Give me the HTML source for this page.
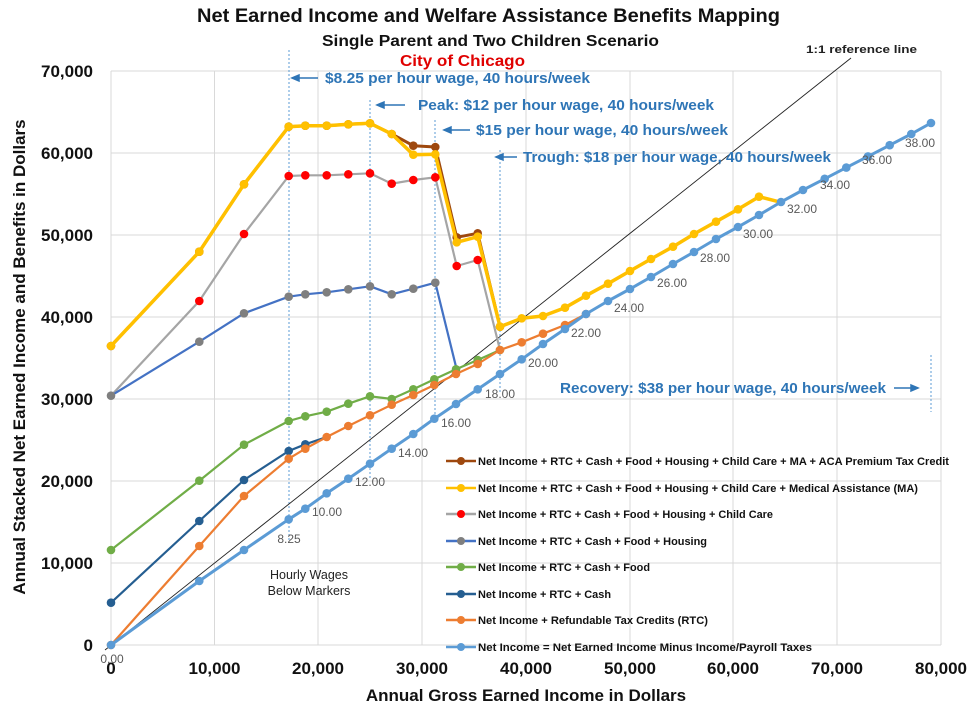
<!DOCTYPE html>
<html><head><meta charset="utf-8"><style>
html,body{margin:0;padding:0;background:#fff}
svg{display:block;font-family:"Liberation Sans",sans-serif}
</style></head><body>
<svg width="980" height="711" viewBox="0 0 980 711" xmlns="http://www.w3.org/2000/svg">
<defs>
<marker id="mY" markerWidth="10" markerHeight="10" refX="5" refY="5" markerUnits="userSpaceOnUse"><circle cx="5" cy="5" r="4.3" fill="#ffc000"/></marker>
<marker id="mBr" markerWidth="10" markerHeight="10" refX="5" refY="5" markerUnits="userSpaceOnUse"><circle cx="5" cy="5" r="4.3" fill="#9e480e"/></marker>
<marker id="mR" markerWidth="10" markerHeight="10" refX="5" refY="5" markerUnits="userSpaceOnUse"><circle cx="5" cy="5" r="4.3" fill="#ff0000"/></marker>
<marker id="mG" markerWidth="10" markerHeight="10" refX="5" refY="5" markerUnits="userSpaceOnUse"><circle cx="5" cy="5" r="4.3" fill="#7f7f7f"/></marker>
<marker id="mGr" markerWidth="10" markerHeight="10" refX="5" refY="5" markerUnits="userSpaceOnUse"><circle cx="5" cy="5" r="4.3" fill="#70ad47"/></marker>
<marker id="mDB" markerWidth="10" markerHeight="10" refX="5" refY="5" markerUnits="userSpaceOnUse"><circle cx="5" cy="5" r="4.3" fill="#255e91"/></marker>
<marker id="mO" markerWidth="10" markerHeight="10" refX="5" refY="5" markerUnits="userSpaceOnUse"><circle cx="5" cy="5" r="4.3" fill="#ed7d31"/></marker>
<marker id="mLB" markerWidth="10" markerHeight="10" refX="5" refY="5" markerUnits="userSpaceOnUse"><circle cx="5" cy="5" r="4.3" fill="#5b9bd5"/></marker>
</defs>

<g stroke="#d9d9d9" stroke-width="1">
<line x1="111" y1="71" x2="941" y2="71"/><line x1="111" y1="153" x2="941" y2="153"/>
<line x1="111" y1="235" x2="941" y2="235"/><line x1="111" y1="317" x2="941" y2="317"/>
<line x1="111" y1="399" x2="941" y2="399"/><line x1="111" y1="481" x2="941" y2="481"/>
<line x1="111" y1="563" x2="941" y2="563"/><line x1="111" y1="645" x2="941" y2="645"/>
<line x1="111" y1="71" x2="111" y2="645"/><line x1="214.5" y1="71" x2="214.5" y2="645"/>
<line x1="318" y1="71" x2="318" y2="645"/><line x1="422" y1="71" x2="422" y2="645"/>
<line x1="526" y1="71" x2="526" y2="645"/><line x1="630" y1="71" x2="630" y2="645"/>
<line x1="733" y1="71" x2="733" y2="645"/><line x1="837" y1="71" x2="837" y2="645"/>
<line x1="941" y1="71" x2="941" y2="645"/>
</g>

<g stroke="#5b9bd5" stroke-width="1" stroke-dasharray="2,2">
<line x1="289" y1="50" x2="289" y2="540"/>
<line x1="370" y1="100" x2="370" y2="480"/>
<line x1="435" y1="120" x2="435" y2="418"/>
<line x1="500" y1="150" x2="500" y2="394"/>
<line x1="931" y1="355" x2="931" y2="412"/>
</g>

<line x1="105" y1="650" x2="851" y2="58" stroke="#222" stroke-width="0.9"/>

<g fill="none" stroke-linejoin="round">
<polyline stroke="#9e480e" stroke-width="3" marker-start="url(#mBr)" marker-mid="url(#mBr)" points="111,346 199.3,251.7 244,184.3 288.7,126.7 305.3,125.7 326.7,125.7 348.3,124.3 370,123.3 391.7,134 413.3,145.7 435.3,147 456.7,237.3 477.7,233.3 500,326.7 521.7,318.3"/>
<polyline stroke="#ffc000" stroke-width="3.5" marker-start="url(#mY)" marker-mid="url(#mY)" points="111,346 199.3,251.7 244,184.3 288.7,126.7 305.3,125.7 326.7,125.7 348.3,124.3 370,123.3 391.7,134 413.3,154.7 435.3,154.3 456.7,242.3 477.7,236.7 500,326.7 521.7,318.3 543,316 565,307.7 586,295.7 608,283.7 630,271 651,259 673,246.7 694,234 716,221.7 738,209.3 759,196.7 781,202.3"/>
<polyline stroke="#a5a5a5" stroke-width="2.2" marker-mid="url(#mR)" points="111,395.7 199.3,301 244,234 288.7,176 305.3,175.3 326.7,175.3 348.3,174.3 370,173.3 391.7,183.7 413.3,180 435.3,177.3 456.7,266 477.7,260 500,350"/>
<polyline stroke="#4472c4" stroke-width="2.2" marker-start="url(#mG)" marker-mid="url(#mG)" points="111,395.7 199.3,341.7 244,313.3 288.7,296.7 305.3,294.3 326.7,292.3 348.3,289.3 370,286.3 391.7,294.3 413.3,288.7 435.3,282.7 456,366.7"/>
<polyline stroke="#70ad47" stroke-width="2.2" marker-start="url(#mGr)" marker-mid="url(#mGr)" marker-end="url(#mGr)" points="111,550 199.3,480.7 244,444.7 288.7,421 305.3,416.3 326.7,411.7 348.3,403.7 370,396.3 391.7,399 413.3,389.3 434.3,379.3 456,369.3 477.7,360 500,350"/>
<polyline stroke="#255e91" stroke-width="2.2" marker-start="url(#mDB)" marker-mid="url(#mDB)" points="111,602.7 199.3,521 244,480 288.7,451 305.3,444.3 326.7,437"/>
<polyline stroke="#ed7d31" stroke-width="2.2" marker-start="url(#mO)" marker-mid="url(#mO)" marker-end="url(#mO)" points="111,645 199.3,546 244,496 288.7,458.7 305.3,448.7 326.7,437 348.3,426 370,415.3 391.7,404.7 413.3,395 434.3,385 456,374 477.7,364 500,350 521.7,342.3 543,333.7 565,325 586,314"/>
<polyline stroke="#5b9bd5" stroke-width="3" marker-start="url(#mLB)" marker-mid="url(#mLB)" marker-end="url(#mLB)" points="111,645 199.3,581 244,550 288.7,519.3 305.3,508.7 326.7,493.3 348.3,478.7 370,463.7 391.7,448.7 413.3,434 434.3,418.7 456,404 477.7,389.3 500,374 521.7,359.3 543,344 565,329 586,314 608,301 630,289 651,277 673,264 694,252 716,239 738,227 759,215 781,202 803,190 824.7,178.8 846.3,167.6 868,156.4 889.7,145.2 911.3,134 931,123"/>
</g>

<g fill="#595959" font-size="12">
<text x="112" y="663" text-anchor="middle">0.00</text>
<text x="289" y="543" text-anchor="middle">8.25</text>
<text x="327" y="516" text-anchor="middle">10.00</text>
<text x="370" y="486" text-anchor="middle">12.00</text>
<text x="413" y="457" text-anchor="middle">14.00</text>
<text x="456" y="427" text-anchor="middle">16.00</text>
<text x="500" y="398" text-anchor="middle">18.00</text>
<text x="543" y="367" text-anchor="middle">20.00</text>
<text x="586" y="337" text-anchor="middle">22.00</text>
<text x="629" y="312" text-anchor="middle">24.00</text>
<text x="672" y="287" text-anchor="middle">26.00</text>
<text x="715" y="262" text-anchor="middle">28.00</text>
<text x="758" y="238" text-anchor="middle">30.00</text>
<text x="802" y="213" text-anchor="middle">32.00</text>
<text x="835" y="189" text-anchor="middle">34.00</text>
<text x="877" y="164" text-anchor="middle">36.00</text>
<text x="920" y="147" text-anchor="middle">38.00</text>
</g>
<text x="309" y="579" font-size="12.5" fill="#222" text-anchor="middle">Hourly Wages</text>
<text x="309" y="595" font-size="12.5" fill="#222" text-anchor="middle">Below Markers</text>

<g fill="#2e75b6" font-size="15" font-weight="bold">
<text x="325" y="83" textLength="265" lengthAdjust="spacingAndGlyphs">$8.25 per hour wage, 40 hours/week</text>
<text x="418" y="110" textLength="296" lengthAdjust="spacingAndGlyphs">Peak: $12 per hour wage, 40 hours/week</text>
<text x="476" y="135" textLength="252" lengthAdjust="spacingAndGlyphs">$15 per hour wage, 40 hours/week</text>
<text x="523" y="162" textLength="308" lengthAdjust="spacingAndGlyphs">Trough: $18 per hour wage, 40 hours/week</text>
<text x="560" y="393" textLength="326" lengthAdjust="spacingAndGlyphs">Recovery: $38 per hour wage, 40 hours/week</text>
</g>
<g stroke="#2e75b6" stroke-width="1.5" fill="#2e75b6">
<line x1="296" y1="78" x2="318" y2="78"/><polygon points="292,78 299,75 299,81"/>
<line x1="381" y1="105" x2="405" y2="105"/><polygon points="377,105 384,102 384,108"/>
<line x1="448" y1="130" x2="470" y2="130"/><polygon points="444,130 451,127 451,133"/>
<line x1="500" y1="157" x2="517" y2="157"/><polygon points="496,157 503,154 503,160"/>
<line x1="894" y1="388" x2="914" y2="388"/><polygon points="918,388 911,385 911,391"/>
</g>
<text x="806" y="53" font-size="11" font-weight="bold" fill="#222" textLength="111" lengthAdjust="spacingAndGlyphs">1:1 reference line</text>

<text x="197" y="22" font-size="19.5" font-weight="bold" fill="#111" textLength="583" lengthAdjust="spacingAndGlyphs">Net Earned Income and Welfare Assistance Benefits Mapping</text>
<text x="322" y="46" font-size="16" font-weight="bold" fill="#111" textLength="337" lengthAdjust="spacingAndGlyphs">Single Parent and Two Children Scenario</text>
<text x="400" y="66" font-size="16" font-weight="bold" fill="#e00000" textLength="125" lengthAdjust="spacingAndGlyphs">City of Chicago</text>

<g font-size="17" font-weight="bold" fill="#111" text-anchor="end">
<text x="93" y="77">70,000</text><text x="93" y="159">60,000</text>
<text x="93" y="241">50,000</text><text x="93" y="323">40,000</text>
<text x="93" y="405">30,000</text><text x="93" y="487">20,000</text>
<text x="93" y="569">10,000</text><text x="93" y="651">0</text>
</g>
<g font-size="17" font-weight="bold" fill="#111" text-anchor="middle">
<text x="111" y="674">0</text><text x="214.5" y="674">10,000</text>
<text x="318" y="674">20,000</text><text x="422" y="674">30,000</text>
<text x="526" y="674">40,000</text><text x="630" y="674">50,000</text>
<text x="733" y="674">60,000</text><text x="837" y="674">70,000</text>
<text x="941" y="674">80,000</text>
</g>
<text x="526" y="701" font-size="17" font-weight="bold" fill="#111" text-anchor="middle">Annual Gross Earned Income in Dollars</text>
<text transform="translate(25,357) rotate(-90)" font-size="17" font-weight="bold" fill="#111" text-anchor="middle">Annual Stacked Net Earned Income and Benefits in Dollars</text>

<g stroke-width="2.5">
<line x1="446" y1="461" x2="476" y2="461" stroke="#9e480e"/><circle cx="461" cy="461" r="4" fill="#9e480e"/>
<line x1="446" y1="488" x2="476" y2="488" stroke="#ffc000"/><circle cx="461" cy="488" r="4" fill="#ffc000"/>
<line x1="446" y1="514" x2="476" y2="514" stroke="#a5a5a5"/><circle cx="461" cy="514" r="4" fill="#ff0000"/>
<line x1="446" y1="541" x2="476" y2="541" stroke="#4472c4"/><circle cx="461" cy="541" r="4" fill="#7f7f7f"/>
<line x1="446" y1="567" x2="476" y2="567" stroke="#70ad47"/><circle cx="461" cy="567" r="4" fill="#70ad47"/>
<line x1="446" y1="594" x2="476" y2="594" stroke="#255e91"/><circle cx="461" cy="594" r="4" fill="#255e91"/>
<line x1="446" y1="620" x2="476" y2="620" stroke="#ed7d31"/><circle cx="461" cy="620" r="4" fill="#ed7d31"/>
<line x1="446" y1="647" x2="476" y2="647" stroke="#5b9bd5"/><circle cx="461" cy="647" r="4" fill="#5b9bd5"/>
</g>
<g font-size="11" font-weight="bold" fill="#111">
<text x="478" y="465" textLength="471" lengthAdjust="spacingAndGlyphs">Net Income + RTC + Cash + Food + Housing + Child Care + MA + ACA Premium Tax Credit</text>
<text x="478" y="492" textLength="440" lengthAdjust="spacingAndGlyphs">Net Income + RTC + Cash + Food + Housing + Child Care + Medical Assistance (MA)</text>
<text x="478" y="518" textLength="295" lengthAdjust="spacingAndGlyphs">Net Income + RTC + Cash + Food + Housing + Child Care</text>
<text x="478" y="545" textLength="229" lengthAdjust="spacingAndGlyphs">Net Income + RTC + Cash + Food + Housing</text>
<text x="478" y="571" textLength="172" lengthAdjust="spacingAndGlyphs">Net Income + RTC + Cash + Food</text>
<text x="478" y="598" textLength="133" lengthAdjust="spacingAndGlyphs">Net Income + RTC + Cash</text>
<text x="478" y="624" textLength="230" lengthAdjust="spacingAndGlyphs">Net Income + Refundable Tax Credits (RTC)</text>
<text x="478" y="651" textLength="334" lengthAdjust="spacingAndGlyphs">Net Income = Net Earned Income Minus Income/Payroll Taxes</text>
</g>
</svg>
</body></html>
